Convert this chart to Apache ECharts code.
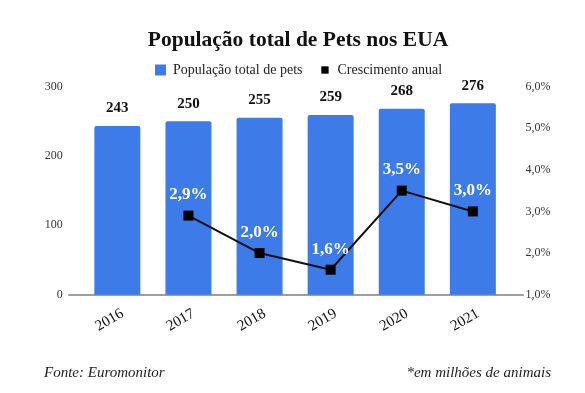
<!DOCTYPE html>
<html><head><meta charset="utf-8">
<script src="https://cdn.jsdelivr.net/npm/echarts@6/dist/echarts.min.js"></script>
<style>html,body{margin:0;padding:0;background:#fff}#c{width:585px;height:393px}</style>
</head><body><div id="c"></div>
<script>
const categories = ['2016','2017','2018','2019','2020','2021'];
const population = [243, 250, 255, 259, 268, 276];
const growth = [null, 2.9, 2.0, 1.6, 3.5, 3.0];
const leftTicks = [0, 100, 200, 300];
const rightTicks = [1, 2, 3, 4, 5, 6];

const FONT = '"Liberation Serif", "DejaVu Serif", serif';
const fmtPct = v => v.toFixed(1).replace('.', ',') + '%';

const chart = echarts.init(document.getElementById('c'), null, {renderer: 'canvas'});
chart.setOption({
  animation: false,
  backgroundColor: '#ffffff',
  textStyle: {fontFamily: FONT},
  title: [
    {text: 'População total de Pets nos EUA', left: 298, top: 29, padding: 0, textAlign: 'center',
     textStyle: {fontFamily: FONT, fontWeight: 'bold', fontSize: 21.5, color: '#111'}},
    {text: 'Fonte: Euromonitor', left: 44, top: 366, padding: 0,
     textStyle: {fontFamily: FONT, fontStyle: 'italic', fontWeight: 'normal', fontSize: 15, color: '#222'}},
    {text: '*em milhões de animais', right: 34, top: 366, padding: 0,
     textStyle: {fontFamily: FONT, fontStyle: 'italic', fontWeight: 'normal', fontSize: 15, color: '#222'}}
  ],
  legend: {
    top: 63, left: 155, padding: 0,
    itemWidth: 11, itemHeight: 11, itemGap: 17,
    textStyle: {fontFamily: FONT, fontSize: 14, color: '#222', padding: [0, 0, 0, 2]},
    data: [
      {name: 'População total de pets', icon: 'rect'},
      {name: 'Crescimento anual', icon: 'path://M0,0M30,30M5,5L25,5L25,25L5,25Z'}
    ]
  },
  grid: [
    {left: 81.8, width: 426.6, top: 86.5, height: 208.2},
    {left: 69, width: 454, top: 86.5, height: 208.2}
  ],
  xAxis: [
    {type: 'category', gridIndex: 0, data: categories,
     axisLine: {show: false}, axisTick: {show: false},
     axisLabel: {rotate: 30, margin: 21, padding: [0, -6, 0, 0], fontFamily: FONT, fontSize: 15, color: '#111'}},
    {type: 'value', gridIndex: 1, min: 0, max: 1,
     axisLine: {show: true, lineStyle: {color: '#9e9e9e', width: 2}},
     axisTick: {show: false}, axisLabel: {show: false}, splitLine: {show: false}}
  ],
  yAxis: [
    {type: 'value', gridIndex: 0, min: leftTicks[0], max: leftTicks[leftTicks.length - 1], interval: 100,
     axisLine: {show: false}, axisTick: {show: false}, splitLine: {show: false},
     axisLabel: {margin: 19, fontFamily: FONT, fontSize: 12, color: '#333'}},
    {type: 'value', gridIndex: 0, position: 'right', min: rightTicks[0], max: rightTicks[rightTicks.length - 1], interval: 1,
     axisLine: {show: false}, axisTick: {show: false}, splitLine: {show: false},
     axisLabel: {margin: 17, fontFamily: FONT, fontSize: 12, color: '#333', formatter: fmtPct}},
    {type: 'value', gridIndex: 1, min: 0, max: 1, show: false}
  ],
  series: [
    {name: 'População total de pets', type: 'bar', xAxisIndex: 0, yAxisIndex: 0,
     data: population, barWidth: 46,
     itemStyle: {color: '#3c7be8', borderRadius: [2, 2, 0, 0]},
     label: {show: true, position: 'top', distance: 10, fontFamily: FONT, fontWeight: 'bold', fontSize: 15, color: '#111'}},
    {name: 'Crescimento anual', type: 'line', xAxisIndex: 0, yAxisIndex: 1,
     data: growth, symbol: 'rect', symbolSize: 10, connectNulls: false,
     itemStyle: {color: '#000'}, lineStyle: {color: '#111', width: 2},
     label: {show: true, position: 'top', distance: 7, fontFamily: FONT, fontWeight: 'bold', fontSize: 17, color: '#fff',
             formatter: p => fmtPct(p.value)}}
  ]
});
</script>
</body></html>
